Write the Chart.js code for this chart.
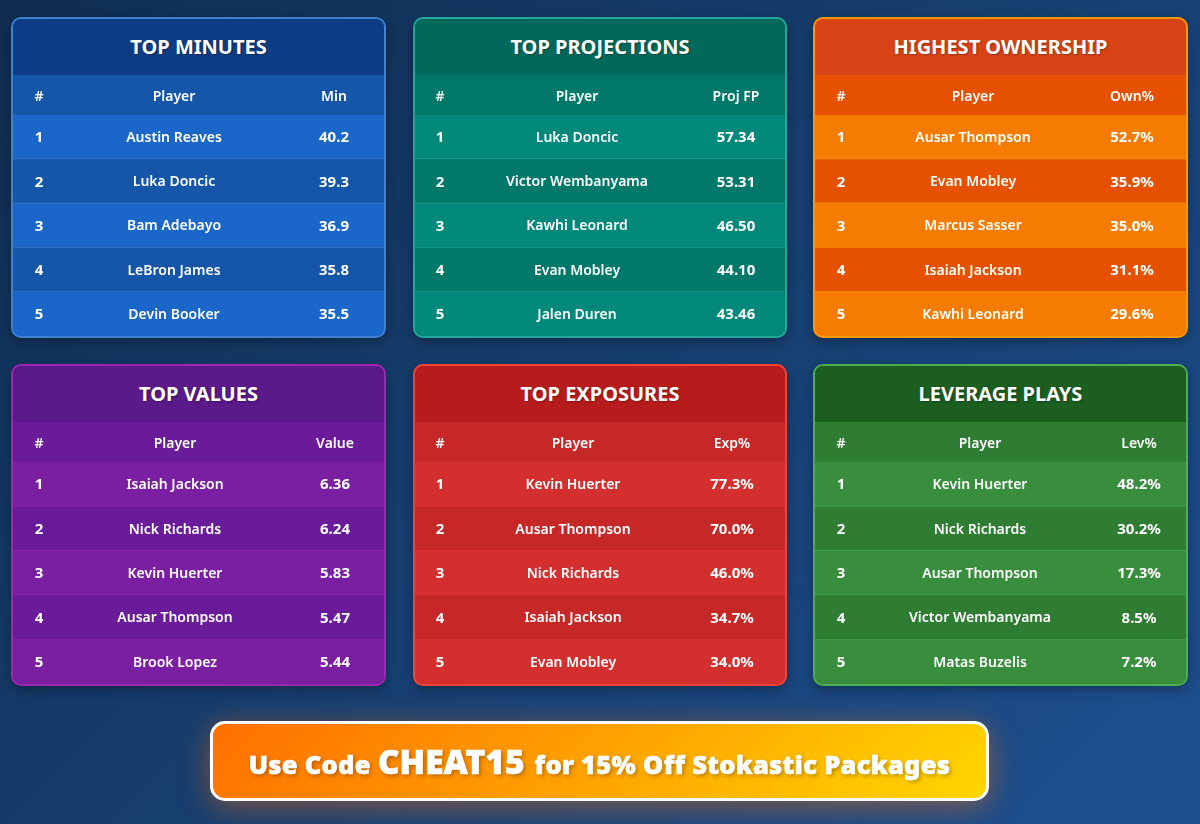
<!DOCTYPE html>
<html>
<head>
<meta charset="utf-8">
<title>Top Plays</title>
<script src="https://cdn.jsdelivr.net/npm/chart.js@4"></script>
<style>
  html, body { margin: 0; padding: 0; }
  body {
    width: 1200px; height: 824px; overflow: hidden; position: relative;
    background: linear-gradient(135deg, #0f2d50 0%, #1e5090 100%);
    font-family: "Noto Sans", "Open Sans", sans-serif; color: #fff;
  }
  .card {
    position: absolute; box-sizing: border-box;
    border: 2px solid; border-radius: 10px; overflow: hidden;
    box-shadow: 0 4px 12px rgba(0,0,0,.3);
  }
  .title {
    height: 56px; line-height: 56px; text-align: center;
    font-size: 20px; font-weight: 700; text-shadow: 1px 1px 2px rgba(0,0,0,.3);
  }
  .head { height: 40px; position: relative; font-size: 14px; font-weight: 600; }
  .head span { position: absolute; top: 0; line-height: 41px; transform: translateX(-50%); white-space: nowrap; }
  canvas { display: block; }
  .promo {
    position: absolute; left: 210px; top: 721px; width: 779px; height: 80px; box-sizing: border-box;
    border: 3px solid #fff; border-radius: 15px;
    background: linear-gradient(135deg, #ff6f00 0%, #ffd600 100%);
    box-shadow: 0 6px 30px rgba(255,111,0,.45);
    text-align: center; line-height: 75px; white-space: nowrap;
    font-size: 25.5px; font-weight: 900; letter-spacing: .3px;
    -webkit-text-stroke: .6px #fff;
    text-shadow: 2px 2px 4px rgba(0,0,0,.3);
  }
  .promo b { font-size: 33.5px; font-weight: 900; letter-spacing: 0; margin-right: 3px; }
</style>
</head>
<body>
<script>
const minutesPlayers = ['Austin Reaves', 'Luka Doncic', 'Bam Adebayo', 'LeBron James', 'Devin Booker'];
const minutesValues = [40.2, 39.3, 36.9, 35.8, 35.5];
const projectionPlayers = ['Luka Doncic', 'Victor Wembanyama', 'Kawhi Leonard', 'Evan Mobley', 'Jalen Duren'];
const projectionValues = [57.34, 53.31, 46.50, 44.10, 43.46];
const ownershipPlayers = ['Ausar Thompson', 'Evan Mobley', 'Marcus Sasser', 'Isaiah Jackson', 'Kawhi Leonard'];
const ownershipValues = [52.7, 35.9, 35.0, 31.1, 29.6];
const valuePlayers = ['Isaiah Jackson', 'Nick Richards', 'Kevin Huerter', 'Ausar Thompson', 'Brook Lopez'];
const valueValues = [6.36, 6.24, 5.83, 5.47, 5.44];
const exposurePlayers = ['Kevin Huerter', 'Ausar Thompson', 'Nick Richards', 'Isaiah Jackson', 'Evan Mobley'];
const exposureValues = [77.3, 70.0, 46.0, 34.7, 34.0];
const leveragePlayers = ['Kevin Huerter', 'Nick Richards', 'Ausar Thompson', 'Victor Wembanyama', 'Matas Buzelis'];
const leverageValues = [48.2, 30.2, 17.3, 8.5, 7.2];
const ranks = [1, 2, 3, 4, 5];

const FONT = '"Noto Sans", "Open Sans", sans-serif';

// one entry per table, cols = centre of each column inside the card
const tables = [
  { title: 'TOP MINUTES', unit: 'Min', players: minutesPlayers, values: minutesValues, fmt: v => v.toFixed(1),
    left: 11, top: 17, width: 375, height: 321, cols: [26, 161, 321], border: '#3f80cf', titleBg: '#0e3d85', even: '#1556a8', odd: '#1a67c9', line: '#3f7fd0' },
  { title: 'TOP PROJECTIONS', unit: 'Proj FP', players: projectionPlayers, values: projectionValues, fmt: v => v.toFixed(2),
    left: 413, top: 17, width: 374, height: 321, cols: [25, 162, 321], border: '#26a69a', titleBg: '#00695c', even: '#00796b', odd: '#00897b', line: '#26a69a' },
  { title: 'HIGHEST OWNERSHIP', unit: 'Own%', players: ownershipPlayers, values: ownershipValues, fmt: v => v.toFixed(1) + '%',
    left: 813, top: 17, width: 375, height: 321, cols: [26, 158, 317], border: '#ff9800', titleBg: '#d84315', even: '#e65100', odd: '#f57c00', line: '#ff9800' },
  { title: 'TOP VALUES', unit: 'Value', players: valuePlayers, values: valueValues, fmt: v => v.toFixed(2),
    left: 11, top: 364, width: 375, height: 322, cols: [26, 162, 322], border: '#9c27b0', titleBg: '#5a1a8a', even: '#6a1b9a', odd: '#7b1fa2', line: '#9c27b0' },
  { title: 'TOP EXPOSURES', unit: 'Exp%', players: exposurePlayers, values: exposureValues, fmt: v => v.toFixed(1) + '%',
    left: 413, top: 364, width: 374, height: 322, cols: [25, 158, 317], border: '#f44336', titleBg: '#b71c1c', even: '#c62828', odd: '#d32f2f', line: '#e53935' },
  { title: 'LEVERAGE PLAYS', unit: 'Lev%', players: leveragePlayers, values: leverageValues, fmt: v => v.toFixed(1) + '%',
    left: 813, top: 364, width: 375, height: 322, cols: [26, 165, 324], border: '#4caf50', titleBg: '#1b5e20', even: '#2e7d32', odd: '#388e3c', line: '#4caf50' }
];

// Draws the rank, player and value text over each row bar
const cellText = {
  id: 'cellText',
  afterDatasetsDraw(chart, args, opts) {
    const { ctx, scales: { x, y } } = chart;
    ctx.save();
    ctx.fillStyle = '#fff';
    ctx.textAlign = 'center';
    ctx.textBaseline = 'middle';
    opts.table.players.forEach((p, i) => {
      const py = y.getPixelForValue(i) + 1;
      ctx.font = `700 15px ${FONT}`;
      ctx.fillText(ranks[i], x.getPixelForValue(opts.table.cols[0]), py);
      ctx.font = `600 14px ${FONT}`;
      ctx.fillText(p, x.getPixelForValue(opts.table.cols[1]), py);
      ctx.font = `700 15px ${FONT}`;
      ctx.fillText(opts.table.fmt(opts.table.values[i]), x.getPixelForValue(opts.table.cols[2]), py);
    });
    ctx.restore();
  }
};

function renderTable(t) {
  const inner = t.width - 4;
  const card = document.createElement('div');
  card.className = 'card';
  card.style.left = t.left + 'px';
  card.style.top = t.top + 'px';
  card.style.width = t.width + 'px';
  card.style.height = t.height + 'px';
  card.style.borderColor = t.border;
  card.style.background = t.odd;
  card.innerHTML = `
    <div class="title" style="background:${t.titleBg}">${t.title}</div>
    <div class="head" style="background:${t.even}">
      <span style="left:${t.cols[0]}px">#</span>
      <span style="left:${t.cols[1]}px">Player</span>
      <span style="left:${t.cols[2]}px">${t.unit}</span>
    </div>
    <canvas width="${inner}" height="${t.height - 100}"></canvas>`;
  document.body.appendChild(card);

  new Chart(card.querySelector('canvas'), {
    type: 'bar',
    data: {
      labels: t.players,
      datasets: [{
        data: t.players.map(() => inner),
        backgroundColor: t.players.map((p, i) => i % 2 ? t.even : t.odd),
        borderColor: t.line,
        borderWidth: t.players.map((p, i) => i < t.players.length - 1 ? { bottom: 1 } : 0),
        borderSkipped: false,
        barPercentage: 1,
        categoryPercentage: 1
      }]
    },
    options: {
      indexAxis: 'y',
      responsive: false,
      animation: false,
      devicePixelRatio: 1,
      layout: { padding: 0 },
      plugins: { legend: { display: false }, tooltip: { enabled: false }, cellText: { table: t } },
      scales: {
        x: { display: false, min: 0, max: inner },
        y: { display: false }
      }
    },
    plugins: [cellText]
  });
}

tables.forEach(renderTable);

const promo = document.createElement('div');
promo.className = 'promo';
promo.innerHTML = 'Use Code <b>CHEAT15</b> for 15% Off Stokastic Packages';
document.body.appendChild(promo);
</script>
</body>
</html>
